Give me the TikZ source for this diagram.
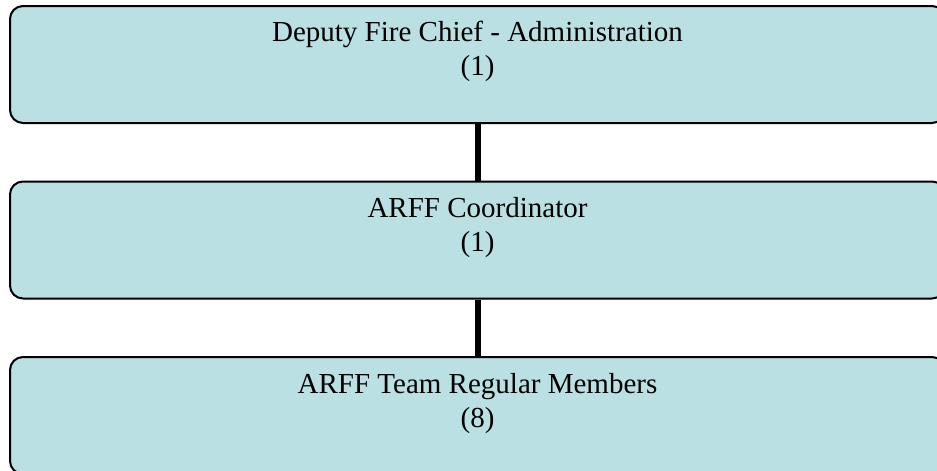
\documentclass[tikz,border=0pt]{standalone}
\usepackage{fontspec}
\setmainfont{Liberation Serif}
\definecolor{boxfill}{RGB}{186,224,227}
\begin{document}
\begin{tikzpicture}[x=1pt,y=-1pt,
  orgbox/.style={draw=black,line width=2pt,fill=boxfill,rounded corners=13pt,
    minimum width=935pt,minimum height=117pt,inner sep=0pt},
  lbl/.style={align=center,inner sep=0pt,anchor=base,font=\fontsize{29}{34}\selectfont},
  link/.style={line width=6pt,draw=black}]
\useasboundingbox (0,0) rectangle (937,471);
\clip (0,0) rectangle (937,471);
\node[orgbox] (b1) at (477.5,64.5) {};
\node[orgbox] (b2) at (477.5,240) {};
\node[orgbox] (b3) at (477.5,415.5) {};
\draw[link] (b1.south -| 478,0) coordinate (c1) -- (b2.north -| c1);
\draw[link] (b2.south -| c1) -- (b3.north -| c1);
\node[lbl] (t1) at (477.5,75) {Deputy Fire Chief - Administration\\(1)};
\node[lbl] (t2) at (477.5,251) {ARFF Coordinator\\(1)};
\node[lbl] (t3) at (477.5,427) {ARFF Team Regular Members\\(8)};
\end{tikzpicture}
\end{document}
